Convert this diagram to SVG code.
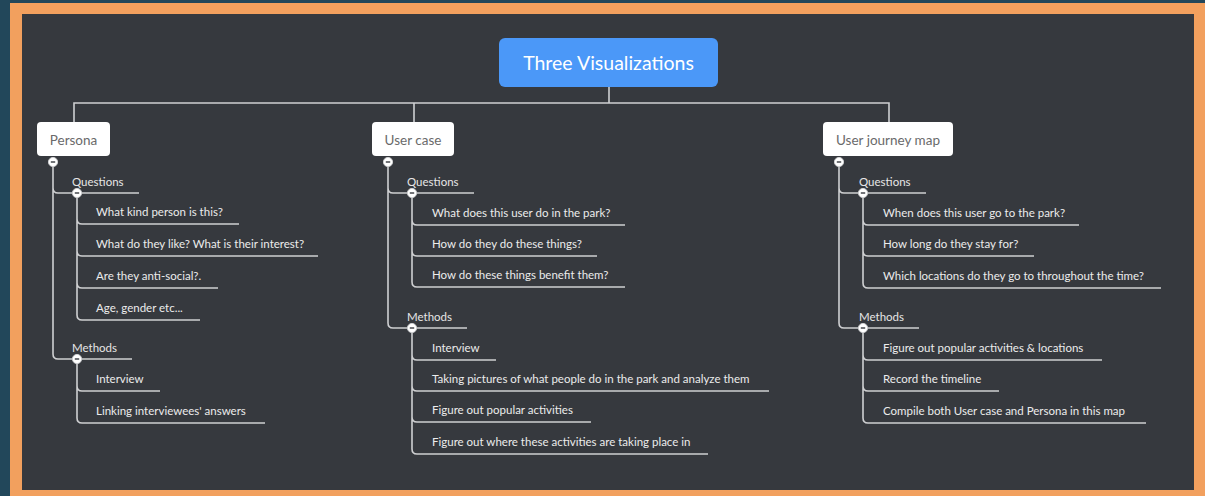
<svg xmlns="http://www.w3.org/2000/svg" width="1205" height="496" viewBox="0 0 1205 496">
<style>
.bg{fill:#22475a}
.frame{fill:#f2a05e}
.canvas{fill:#36393e}
.con{fill:none;stroke:#cfd0d2;stroke-width:1.6}
.ul{stroke:#cfd0d2;stroke-width:1.6}
.box{fill:#ffffff}
.root{fill:#4b98f8}
.rt{font-family:Lato,"Liberation Sans",sans-serif;font-size:19.5px;fill:#ffffff;text-anchor:middle;dominant-baseline:central}
.bt{font-family:Lato,"Liberation Sans",sans-serif;font-size:13.5px;fill:#6a6a6a;text-anchor:middle;dominant-baseline:central}
.lt{font-family:Lato,"Liberation Sans",sans-serif;font-size:11.5px;fill:#e6e6e6}
.it{font-family:Lato,"Liberation Sans",sans-serif;font-size:11.5px;fill:#ececec}
.knob{fill:#ffffff;stroke:#cfd0d2;stroke-width:1}
.dash{stroke:#36393e;stroke-width:1.4}
</style>
<defs>
<g id="k"><circle class="knob" r="4.6"/><line class="dash" x1="-2.2" y1="0" x2="2.2" y2="0"/></g>
</defs>
<rect class="bg" x="0" y="0" width="1205" height="496"/>
<rect class="frame" x="10" y="3" width="1195" height="493"/>
<rect class="canvas" x="22" y="14" width="1172" height="476"/>

<g id="connectors">
<path class="con" d="M609,87 V103 M74,122 V103 H889 V122 M414,103 V122"/>
<!-- Persona -->
<path class="con" d="M53,166 V188 Q53,193 58,193 M53,188 V354 Q53,359 58,359"/>
<path class="con" d="M77,197 V219 Q77,224 82,224 M77,219 V251 Q77,256 82,256 M77,251 V283 Q77,288 82,288 M77,283 V315 Q77,320 82,320"/>
<path class="con" d="M77,363 V386 Q77,391 82,391 M77,386 V418 Q77,423 82,423"/>
<!-- User case -->
<path class="con" d="M388,166 V188 Q388,193 393,193 M388,188 V323 Q388,328 393,328"/>
<path class="con" d="M412,197 V220 Q412,225 417,225 M412,220 V251 Q412,256 417,256 M412,251 V282 Q412,287 417,287"/>
<path class="con" d="M412,332 V355 Q412,360 417,360 M412,355 V386 Q412,391 417,391 M412,386 V417 Q412,422 417,422 M412,417 V449 Q412,454 417,454"/>
<!-- Journey -->
<path class="con" d="M839,166 V188 Q839,193 844,193 M839,188 V323 Q839,328 844,328"/>
<path class="con" d="M863,197 V220 Q863,225 868,225 M863,220 V251 Q863,256 868,256 M863,251 V283 Q863,288 868,288"/>
<path class="con" d="M863,332 V355 Q863,360 868,360 M863,355 V386 Q863,391 868,391 M863,386 V418 Q863,423 868,423"/>
</g>

<g id="root"><rect class="root" x="499" y="38" width="219" height="49" rx="6"/><text class="rt" x="608.5" y="62.5">Three Visualizations</text></g>

<g id="persona"><rect class="box" x="37" y="122" width="73" height="34" rx="4"/><text class="bt" x="73.5" y="139.5">Persona</text><use href="#k" x="53" y="162"/></g>
<g id="persona-questions"><line class="ul" x1="58" y1="193" x2="139" y2="193"/><text class="lt" x="72" y="186">Questions</text><use href="#k" x="77" y="193"/></g>
<g id="persona-q1"><line class="ul" x1="82" y1="224" x2="239" y2="224"/><text class="it" x="96" y="216">What kind person is this?</text></g>
<g id="persona-q2"><line class="ul" x1="82" y1="256" x2="318" y2="256"/><text class="it" x="96" y="248">What do they like? What is their interest?</text></g>
<g id="persona-q3"><line class="ul" x1="82" y1="288" x2="218" y2="288"/><text class="it" x="96" y="280">Are they anti-social?.</text></g>
<g id="persona-q4"><line class="ul" x1="82" y1="320" x2="200" y2="320"/><text class="it" x="96" y="312">Age, gender etc...</text></g>
<g id="persona-methods"><line class="ul" x1="58" y1="359" x2="132" y2="359"/><text class="lt" x="72" y="352">Methods</text><use href="#k" x="77" y="359"/></g>
<g id="persona-m1"><line class="ul" x1="82" y1="391" x2="160" y2="391"/><text class="it" x="96" y="383">Interview</text></g>
<g id="persona-m2"><line class="ul" x1="82" y1="423" x2="265" y2="423"/><text class="it" x="96" y="415">Linking interviewees' answers</text></g>

<g id="usercase"><rect class="box" x="372" y="122" width="82" height="34" rx="4"/><text class="bt" x="413" y="139.5">User case</text><use href="#k" x="388" y="162"/></g>
<g id="usercase-questions"><line class="ul" x1="393" y1="193" x2="474" y2="193"/><text class="lt" x="407" y="186">Questions</text><use href="#k" x="412" y="193"/></g>
<g id="usercase-q1"><line class="ul" x1="417" y1="225" x2="625" y2="225"/><text class="it" x="432" y="217">What does this user do in the park?</text></g>
<g id="usercase-q2"><line class="ul" x1="417" y1="256" x2="597" y2="256"/><text class="it" x="432" y="248">How do they do these things?</text></g>
<g id="usercase-q3"><line class="ul" x1="417" y1="287" x2="625" y2="287"/><text class="it" x="432" y="279">How do these things benefit them?</text></g>
<g id="usercase-methods"><line class="ul" x1="393" y1="328" x2="467" y2="328"/><text class="lt" x="407" y="321">Methods</text><use href="#k" x="412" y="328"/></g>
<g id="usercase-m1"><line class="ul" x1="417" y1="360" x2="496" y2="360"/><text class="it" x="432" y="352">Interview</text></g>
<g id="usercase-m2"><line class="ul" x1="417" y1="391" x2="769" y2="391"/><text class="it" x="432" y="383">Taking pictures of what people do in the park and analyze them</text></g>
<g id="usercase-m3"><line class="ul" x1="417" y1="422" x2="591" y2="422"/><text class="it" x="432" y="414">Figure out popular activities</text></g>
<g id="usercase-m4"><line class="ul" x1="417" y1="454" x2="708" y2="454"/><text class="it" x="432" y="446">Figure out where these activities are taking place in</text></g>

<g id="journey"><rect class="box" x="823" y="122" width="130" height="34" rx="4"/><text class="bt" x="888" y="139.5">User journey map</text><use href="#k" x="839" y="162"/></g>
<g id="journey-questions"><line class="ul" x1="844" y1="193" x2="926" y2="193"/><text class="lt" x="859" y="186">Questions</text><use href="#k" x="863" y="193"/></g>
<g id="journey-q1"><line class="ul" x1="868" y1="225" x2="1079" y2="225"/><text class="it" x="883" y="217">When does this user go to the park?</text></g>
<g id="journey-q2"><line class="ul" x1="868" y1="256" x2="1034" y2="256"/><text class="it" x="883" y="248">How long do they stay for?</text></g>
<g id="journey-q3"><line class="ul" x1="868" y1="288" x2="1161" y2="288"/><text class="it" x="883" y="280">Which locations do they go to throughout the time?</text></g>
<g id="journey-methods"><line class="ul" x1="844" y1="328" x2="919" y2="328"/><text class="lt" x="859" y="321">Methods</text><use href="#k" x="863" y="328"/></g>
<g id="journey-m1"><line class="ul" x1="868" y1="360" x2="1102" y2="360"/><text class="it" x="883" y="352">Figure out popular activities &amp; locations</text></g>
<g id="journey-m2"><line class="ul" x1="868" y1="391" x2="999" y2="391"/><text class="it" x="883" y="383">Record the timeline</text></g>
<g id="journey-m3"><line class="ul" x1="868" y1="423" x2="1146" y2="423"/><text class="it" x="883" y="415">Compile both User case and Persona in this map</text></g>
</svg>
